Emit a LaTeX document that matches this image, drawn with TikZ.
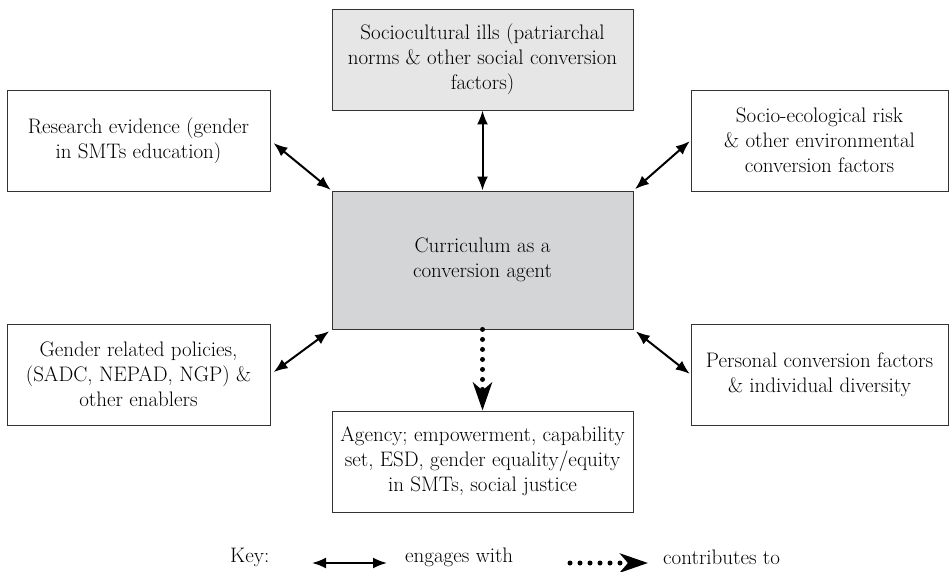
\documentclass[tikz,border=0pt]{standalone}
\usepackage{fontspec}
\usetikzlibrary{arrows.meta}
\definecolor{boxline}{HTML}{333333}
\definecolor{lightfill}{HTML}{E6E6E6}
\definecolor{midfill}{HTML}{D4D5D7}
\begin{document}
\begin{tikzpicture}[x=1pt,y=-1pt,
  boxstyle/.style={draw=boxline, line width=0.9pt, rectangle, align=center,
    inner sep=0pt, font=\fontsize{21}{25}\selectfont},
  engage/.style={line width=2pt, {Latex[length=14pt,width=11pt]}-{Latex[length=14pt,width=11pt]}},
  contrib/.style={line width=5pt, line cap=round, dash pattern=on 0pt off 10pt,
    -{Stealth[length=28pt,width=19pt,inset=8pt]}},
  keytext/.style={font=\fontsize{21}{25}\selectfont, inner sep=0pt}
]
\useasboundingbox (0,0) rectangle (950,572);

\node[boxstyle, fill=lightfill, minimum width=301pt, minimum height=101pt] (top) at (482.5,59.5)
  {Sociocultural ills (patriarchal\\norms \& other social conversion\\factors)};
\node[boxstyle, fill=midfill, minimum width=301pt, minimum height=138pt] (c) at (482.5,260)
  {Curriculum as a\\conversion agent};
\node[boxstyle, fill=white, minimum width=301pt, minimum height=101pt] (bot) at (482.5,461.5)
  {Agency; empowerment, capability\\set, ESD, gender equality/equity\\in SMTs, social justice};
\node[boxstyle, fill=white, minimum width=263pt, minimum height=101pt] (tl) at (138.5,140.5)
  {Research evidence (gender\\in SMTs education)};
\node[boxstyle, fill=white, minimum width=257pt, minimum height=101pt] (tr) at (819.5,140.5)
  {Socio-ecological risk\\\& other environmental\\conversion factors};
\node[boxstyle, fill=white, minimum width=263pt, minimum height=101pt] (bl) at (138.5,374.5)
  {Gender related policies,\\(SADC, NEPAD, NGP) \&\\other enablers};
\node[boxstyle, fill=white, minimum width=257pt, minimum height=101pt] (br) at (819.5,374.5)
  {Personal conversion factors\\\& individual diversity};

\draw[engage] (top.south) -- (c.north);
\draw[engage, shorten <=4pt, shorten >=1pt] (tl.east) -- (c.north west);
\draw[engage, shorten <=2pt, shorten >=1pt] (c.north east) -- (tr.west);
\draw[engage, shorten <=4pt, shorten >=3pt] (bl.east) -- (c.south west);
\draw[engage, shorten <=3pt, shorten >=1pt] (c.south east) -- (br.west);
\draw[contrib] (c.south) -- (bot.north);

% key
\node[keytext, anchor=west] (keylbl) at (230,557) {Key:};
\coordinate (k1) at (312,563);
\coordinate (k2) at (387,563);
\draw[engage] (k1) -- (k2);
\node[keytext, anchor=west] (eng) at (405,557) {engages with};
\coordinate (k3) at (570,563);
\coordinate (k4) at (648,563);
\draw[contrib] (k3) -- (k4);
\node[keytext, anchor=west] (con) at (663,557) {contributes to};
\end{tikzpicture}
\end{document}
